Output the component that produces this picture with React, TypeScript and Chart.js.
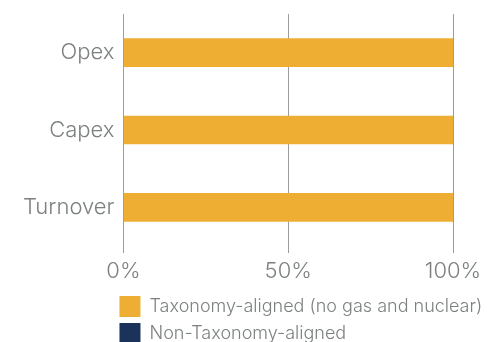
import React, { useEffect, useRef } from 'react';
import { Chart, registerables } from 'chart.js';

Chart.register(...registerables);

const categories = ['Opex', 'Capex', 'Turnover'];
const alignedValues = [100, 100, 100];
const nonAlignedValues = [0, 0, 0];
const seriesLabels = ['Taxonomy-aligned (no gas and nuclear)', 'Non-Taxonomy-aligned'];
const xTickValues = [0, 50, 100];

const TEXT_COLOR = '#7c8080';
const GRID_COLOR = '#9c9c9c';
const ORANGE = '#edae33';
const NAVY = '#1b325a';
const FONT_FAMILY = 'Inter, Roboto, sans-serif';

const legendShift = {
  id: 'legendShift',
  afterLayout(chart: any) {
    const lg = chart.legend;
    if (!lg) return;
    const pad = lg.options.labels.padding;
    lg.left = chart.chartArea.left - 4 - pad;
    lg.right = chart.width;
    lg.width = lg.right - lg.left;
  },
};

export default function App() {
  const ref = useRef<HTMLCanvasElement | null>(null);

  useEffect(() => {
    if (!ref.current) return;
    const chart = new Chart(ref.current, {
      type: 'bar',
      data: {
        labels: categories,
        datasets: [
          {
            label: seriesLabels[0],
            data: alignedValues,
            backgroundColor: ORANGE,
            borderWidth: 0,
            barThickness: 28,
          },
          {
            label: seriesLabels[1],
            data: nonAlignedValues,
            backgroundColor: NAVY,
            borderWidth: 0,
            barThickness: 28,
          },
        ],
      },
      options: {
        indexAxis: 'y',
        responsive: false,
        animation: false,
        layout: { padding: { left: 23, right: 35, top: 14, bottom: 0 } },
        scales: {
          x: {
            type: 'linear',
            stacked: true,
            min: 0,
            max: 100,
            afterBuildTicks: (scale: any) => {
              scale.ticks = xTickValues.map((v) => ({ value: v }));
            },
            ticks: {
              callback: (v: any) => `${v}%`,
              color: TEXT_COLOR,
              padding: 3,
              font: { family: FONT_FAMILY, size: 22, weight: '300', lineHeight: 1.409 },
            },
            grid: {
              color: GRID_COLOR,
              tickColor: GRID_COLOR,
              drawTicks: true,
              tickLength: 7,
              lineWidth: 1,
            },
            border: { display: false },
          },
          y: {
            type: 'category',
            stacked: true,
            grid: { display: false, drawTicks: true, tickLength: 9 },
            border: { display: false },
            ticks: {
              color: TEXT_COLOR,
              padding: 0,
              font: { family: FONT_FAMILY, size: 22, weight: '300' },
            },
          },
        },
        plugins: {
          legend: {
            position: 'bottom',
            align: 'start',
            labels: {
              boxWidth: 21,
              boxHeight: 21,
              padding: 6,
              color: TEXT_COLOR,
              font: { family: FONT_FAMILY, size: 18, weight: '300' },
            },
          },
          tooltip: { enabled: false },
        },
      },
      plugins: [legendShift],
    } as any);
    return () => chart.destroy();
  }, []);

  return (
    <div
      style={{
        position: 'fixed',
        left: 0,
        top: 0,
        width: 488,
        height: 342,
        overflow: 'hidden',
        background: '#fff',
      }}
    >
      <canvas ref={ref} width={488} height={354} style={{ display: 'block' }} />
    </div>
  );
}
